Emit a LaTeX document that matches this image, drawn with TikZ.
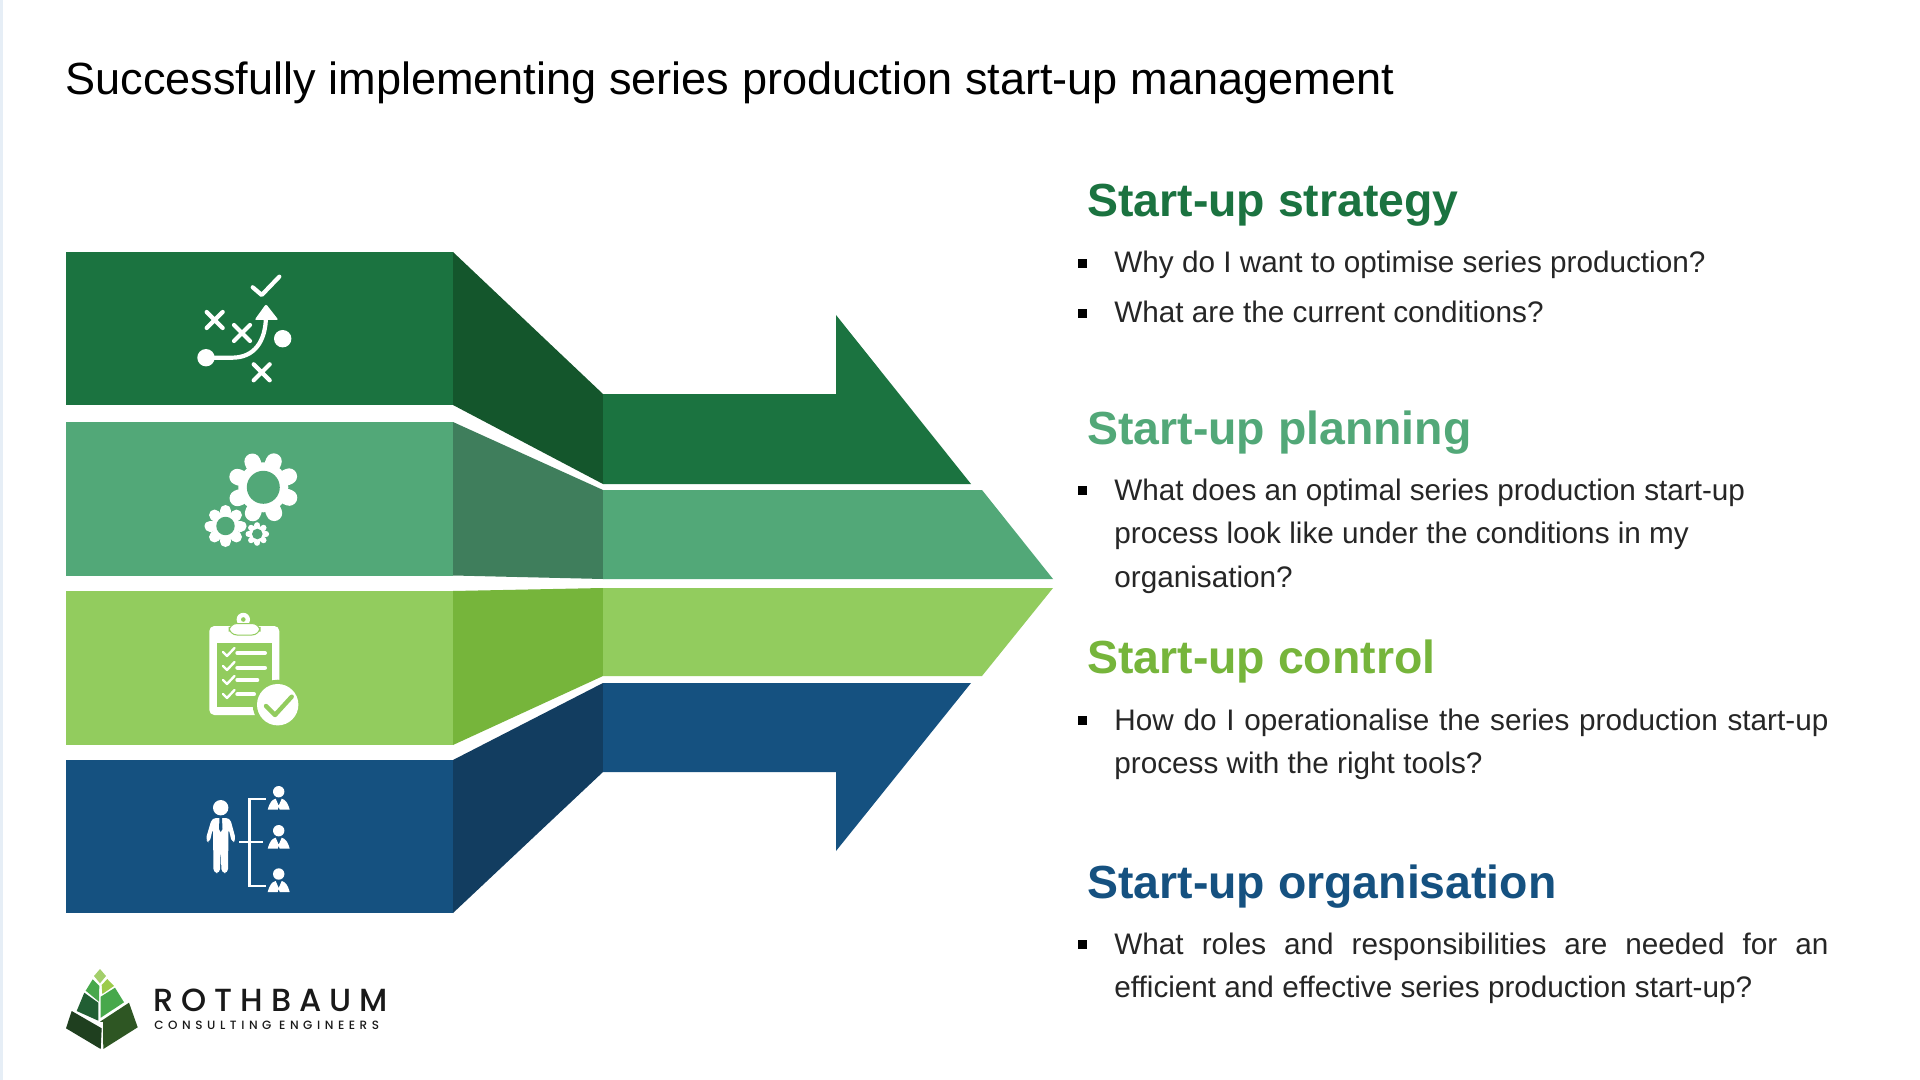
\documentclass[tikz,border=0pt]{standalone}
\usepackage{fontspec}
\setmainfont{Liberation Sans}
\newfontfamily\logofont[UprightFont=* Medium]{Poppins}
\usetikzlibrary{calc}
\definecolor{stratcol}{HTML}{1B7340}
\definecolor{stratfold}{HTML}{14562C}
\definecolor{plancol}{HTML}{52A878}
\definecolor{planfold}{HTML}{3F7E5C}
\definecolor{ctrlcol}{HTML}{92CC5E}
\definecolor{ctrlfold}{HTML}{76B53B}
\definecolor{orgcol}{HTML}{155180}
\definecolor{orgfold}{HTML}{123D60}
\definecolor{sidecol}{HTML}{E6EEF6}
\definecolor{logotop}{HTML}{A3CF6B}
\definecolor{logosmall}{HTML}{9CCB4A}
\definecolor{logomid}{HTML}{47A84B}
\definecolor{logobranch}{HTML}{215E33}
\definecolor{logoright}{HTML}{2E5623}
\definecolor{logoleft}{HTML}{1F3F1F}
\tikzset{
	headtext/.style={anchor=base west, inner sep=0pt, font=\fontsize{23.2}{28}\selectfont\bfseries},
	bodytext/.style={anchor=base west, inner sep=0pt, text=black!85, font=\fontsize{14.85}{21.8}\selectfont, align=left},
	iconline/.style={draw=white, line width=2.1pt, line cap=round, line join=round},
	bulletmark/.style={fill=black}
}
\def\crossmark(#1,#2){\draw[iconline] (#1-8, #2-8) -- (#1+8, #2+8) (#1-8, #2+8) -- (#1+8, #2-8);}
\def\bulletat(#1){\fill[bulletmark] (1077.5, #1-14) rectangle (1086.5, #1-5);}
\def\gearicon(#1,#2)(#3:#4:#5:#6){
	\fill[white] (#1, #2) circle [radius=#4];
	\foreach \ang in {0,45,...,315} {
		\draw[white, line width=#5pt, line cap=round] ($(#1, #2)+(\ang+#6:#4)$) -- ($(#1, #2)+(\ang+#6:#3)$);
	}
	\fill[plancol] (#1, #2) circle [radius=#4*0.66];
}
\def\smallcheck(#1,#2){\draw[iconline, line width=1.2pt] (#1, #2) -- (#1+4, #2+4) -- (#1+11.5, #2-4);}
\def\personicon(#1,#2){
	\fill[white] (#1, #2) circle [radius=5.7];
	\fill[white] (#1-11, #2+18) .. controls (#1-9, #2+11) and (#1-7, #2+8) .. (#1-3, #2+7) -- (#1, #2+14) -- (#1+3, #2+7) .. controls (#1+7, #2+8) and (#1+9, #2+11) .. (#1+11, #2+18) -- (#1+1, #2+18) -- (#1, #2+15) -- (#1-1, #2+18) -- cycle;
}

\begin{document}
\begin{tikzpicture}[x=0.5pt, y=-0.5pt]
	\useasboundingbox (0, 0) rectangle (1920, 1080);
	\fill[white] (0, 0) rectangle (1920, 1080);
	\fill[sidecol] (0, 0) rectangle (3, 1080);

	\node[anchor=base west, inner sep=0pt, font=\fontsize{22.55}{26}\selectfont] (title) at (65, 95) {Successfully implementing series production start-up management};

	% left blocks
	\fill[stratcol] (66, 252) rectangle (453, 405);
	\fill[plancol] (66, 422) rectangle (453, 575.5);
	\fill[ctrlcol] (66, 591) rectangle (453, 745);
	\fill[orgcol] (66, 760) rectangle (453, 913);

	% folds
	\fill[stratfold] (453, 252) -- (603, 394) -- (603, 484) -- (453, 405) -- cycle;
	\fill[planfold] (453, 422) -- (603, 490) -- (603, 579) -- (453, 575.5) -- cycle;
	\fill[ctrlfold] (453, 591) -- (603, 588) -- (603, 676) -- (453, 745) -- cycle;
	\fill[orgfold] (453, 760) -- (603, 683) -- (603, 772) -- (453, 913) -- cycle;

	% arrow
	\fill[stratcol] (603, 394) -- (836, 394) -- (836, 315) -- (971, 484) -- (603, 484) -- cycle;
	\fill[plancol] (603, 490) -- (982, 490) -- (1053, 579) -- (603, 579) -- cycle;
	\fill[ctrlcol] (603, 588) -- (1053, 588) -- (982, 676) -- (603, 676) -- cycle;
	\fill[orgcol] (603, 683) -- (971, 683) -- (836, 851) -- (836, 772) -- (603, 772) -- cycle;

	% strategy icon
	\draw[iconline] (252.7, 287.3) -- (261.7, 295) -- (279.3, 276.7);
	\crossmark(214.7,320)
	\crossmark(242,333)
	\crossmark(261.7,372.3)
	\fill[white] (282.7, 338.7) circle (8.7);
	\fill[white] (206, 357.7) circle (8.7);
	\draw[iconline] (206, 357.7) -- (232, 357.7) .. controls (254, 357.7) and (266, 342) .. (266, 315);
	\fill[white, rounded corners=1] (266, 304) -- (278.5, 320) -- (254.5, 320) -- cycle;

	% gear icon
	\gearicon(263.3,487.3)(28:25:8:22)
	\gearicon(225.5,526)(15.5:14:5.5:0)
	\gearicon(257.3,534)(8.8:8:3:0)

	% clipboard icon
	\fill[white, rounded corners=2.5] (209.3, 626) rectangle (279.3, 715);
	\fill[ctrlcol] (216.7, 643.3) rectangle (272, 707.3);
	\fill[ctrlcol] (277.7, 704.7) circle (25);
	\fill[white] (277.7, 704.7) circle (20.7);
	\draw[ctrlcol, line width=2.2pt, line cap=round, line join=round] (266, 706) -- (275, 715) -- (291.7, 696.7);
	\fill[white] (243.3, 619.5) circle (6.7);
	\fill[ctrlcol] (243.3, 619.5) circle (2.3);
	\filldraw[white, draw=ctrlcol, line width=0.5pt, rounded corners=4] (229, 623.5) rectangle (260, 635);
	\smallcheck(223,652)
	\smallcheck(223,666)
	\smallcheck(223,680)
	\smallcheck(223,694)
	\draw[iconline, line width=2pt] (237.3, 653) -- (265, 653);
	\draw[iconline, line width=2pt] (237.3, 667.7) -- (265, 667.7);
	\draw[iconline, line width=2pt] (237.3, 680) -- (257.3, 680);
	\draw[iconline, line width=2pt] (237.3, 694.3) -- (254, 694.3);

	% people icon
	\fill[white] (220.7, 807.7) circle (7.7);
	\fill[white, rounded corners=2] (212, 818) -- (230, 818) -- (236, 840) -- (232, 843) -- (228.5, 828) -- (228, 873) -- (221.5, 873) -- (220.7, 847) -- (220, 873) -- (213.5, 873) -- (213, 828) -- (209.5, 843) -- (205.5, 840) -- cycle;
	\fill[orgcol] (219.5, 818) -- (222, 818) -- (222.5, 829) -- (220.7, 832) -- (219, 829) -- cycle;
	\draw[white, line width=1.2pt] (265.7, 799) -- (249.3, 799) -- (249.3, 885.7) -- (265.7, 885.7);
	\draw[white, line width=1.2pt] (239.3, 841.7) -- (262.7, 841.7);
	\personicon(278.7,791.7)
	\personicon(278.7,830.7)
	\personicon(278.7,874)

	% logo
	\fill[logotop] (100, 969) -- (106, 976) -- (100, 983.3) -- (94, 976) -- cycle;
	\fill[logosmall] (107.3, 979) -- (114, 986) -- (102.3, 994) -- (101.7, 985) -- cycle;
	\fill[logomid] (92.7, 979.3) -- (99.3, 986) -- (99, 1001.7) -- (85.7, 990.7) -- cycle;
	\fill[logomid] (115, 987.7) -- (124, 1002.3) -- (100.7, 1017.7) -- (100.7, 996.7) -- cycle;
	\fill[logobranch] (84.3, 992.7) -- (98.3, 1002.7) -- (98.3, 1020.7) -- (76.7, 1011) -- cycle;
	\fill[logoright] (129, 1002.7) -- (137.7, 1027.3) -- (103.3, 1049) -- (103, 1022) -- (100, 1021.7) -- cycle;
	\fill[logoleft] (71.7, 1011) -- (101.7, 1028.3) -- (100.7, 1049) -- (66, 1028.3) -- cycle;
	\node[anchor=base west, inner sep=0pt, text=black!90, font=\logofont\fontsize{16}{18}\selectfont\addfontfeature{LetterSpace=25}] (logoname) at (153, 1011) {ROTHBAUM};
	\node[anchor=base west, inner sep=0pt, text=black!90, font=\logofont\fontsize{6}{7}\selectfont\addfontfeature{LetterSpace=38}] (logosub) at (154, 1029) {CONSULTING ENGINEERS};

	% texts
	\node[headtext, text=stratcol] (strathead) at (1087, 217) {Start-up strategy};
	\bulletat(273)
	\node[bodytext] (strata) at (1114, 273) {Why do I want to optimise series production?};
	\bulletat(323)
	\node[bodytext] (stratb) at (1114, 323) {What are the current conditions?};

	\node[headtext, text=plancol] (planhead) at (1087, 444) {Start-up planning};
	\bulletat(500)
	\node[bodytext] (plana) at (1114, 500) {What does an optimal series production start-up};
	\node[bodytext] (planb) at (1114, 543.5) {process look like under the conditions in my};
	\node[bodytext] (planc) at (1114, 587) {organisation?};

	\node[headtext, text=ctrlfold] (ctrlhead) at (1087, 673) {Start-up control};
	\bulletat(730)
	\node[bodytext] (ctrla) at (1114, 730) {\hbox to 357pt{How do I operationalise the series production start-up}};
	\node[bodytext] (ctrlb) at (1114, 773.5) {process with the right tools?};

	\node[headtext, text=orgcol] (orghead) at (1087, 898) {Start-up organisation};
	\bulletat(954)
	\node[bodytext] (orga) at (1114, 954) {\hbox to 357pt{What roles and responsibilities are needed for an}};
	\node[bodytext] (orgb) at (1114, 997.5) {efficient and effective series production start-up?};
\end{tikzpicture}
\end{document}
